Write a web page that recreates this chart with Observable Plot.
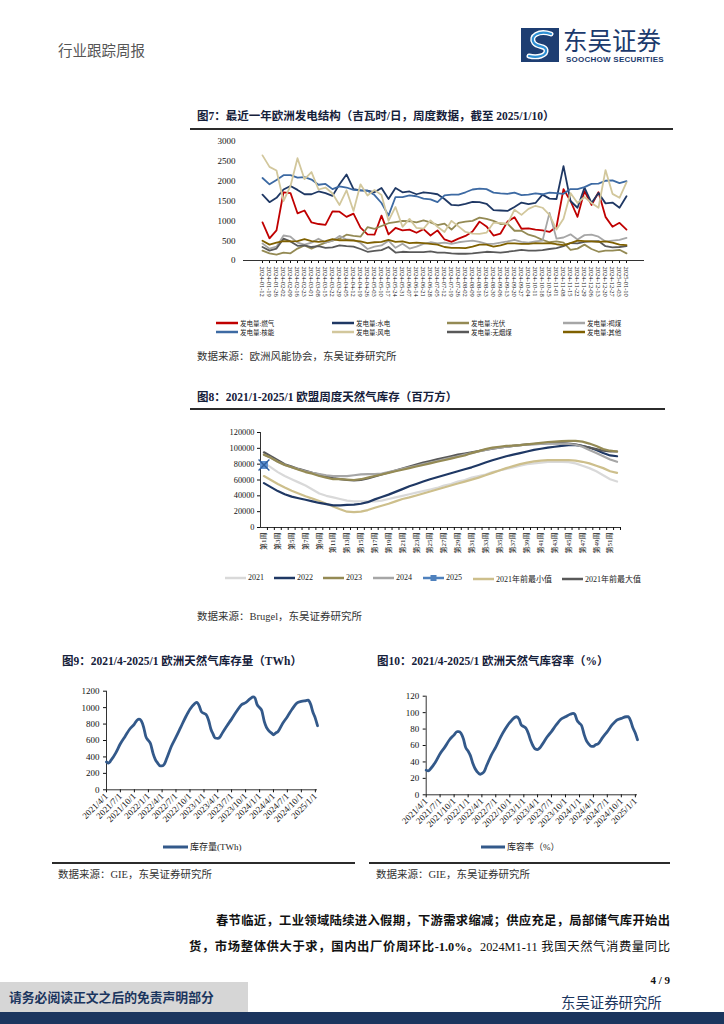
<!DOCTYPE html>
<html><head><meta charset="utf-8">
<script src="https://cdn.jsdelivr.net/npm/d3@7"></script>
<script src="https://cdn.jsdelivr.net/npm/@observablehq/plot@0.6"></script>
<style>
body{margin:0;background:#fff;}
#page{position:relative;width:724px;height:1024px;overflow:hidden;background:#fff;font-family:"Liberation Serif","Noto Sans CJK SC",serif;color:#222;}
.abs{position:absolute;white-space:nowrap;}
.title{font-weight:bold;font-size:11.5px;color:#15203a;line-height:14px;}
.rule{position:absolute;height:2px;background:#2b2b2b;}
.src{font-size:10.5px;color:#333;line-height:14px;}
.leg{position:absolute;display:flex;align-items:center;white-space:nowrap;color:#222;}
</style></head><body><div id="page">
<div class="abs" style="left:58px;top:39px;font-size:14.5px;color:#555;font-family:'Noto Sans CJK SC';">行业跟踪周报</div>
<div class="abs" style="left:521px;top:28px;">
<svg width="38" height="34" viewBox="0 0 38 34"><rect width="38" height="34" fill="#1e3e72"/>
<path d="M30 6 C18 2 8 8 13 15 C17 20 24 17 25 22 C26 28 16 30 8 28" fill="none" stroke="#ffffff" stroke-width="5" stroke-linecap="round"/>
<path d="M30 6 C18 2 8 8 13 15 C17 20 24 17 25 22 C26 28 16 30 8 28" fill="none" stroke="#2e8fd3" stroke-width="2.2" stroke-linecap="round"/></svg></div>
<div class="abs" style="left:563px;top:28px;font-size:24.5px;color:#1b3a6d;font-family:'Noto Sans CJK SC';line-height:24px;">东吴证券</div>
<div class="abs" style="left:566px;top:55px;font-size:8px;font-weight:bold;color:#1b3a6d;font-family:'Liberation Sans';letter-spacing:0.25px;line-height:9px;">SOOCHOW SECURITIES</div>

<div class="abs title" style="left:197px;top:109px;">图7：最近一年欧洲发电结构（吉瓦时/日，周度数据，截至 2025/1/10）</div>
<div class="rule" style="left:190px;top:128px;width:483px;"></div>
<div class="abs src" style="left:197px;top:350px;">数据来源：欧洲风能协会，东吴证券研究所</div>

<div class="abs title" style="left:197px;top:390px;">图8：2021/1-2025/1 欧盟周度天然气库存（百万方）</div>
<div class="rule" style="left:190px;top:408px;width:475px;"></div>
<div class="abs src" style="left:197px;top:610px;">数据来源：Brugel，东吴证券研究所</div>

<div class="abs title" style="left:62px;top:654px;">图9：2021/4-2025/1 欧洲天然气库存量（TWh）</div>
<div class="abs title" style="left:377px;top:654px;">图10：2021/4-2025/1 欧洲天然气库容率（%）</div>
<div class="rule" style="left:52px;top:862px;width:303px;height:1.5px;"></div>
<div class="rule" style="left:369px;top:862px;width:301px;height:1.5px;"></div>
<div class="abs src" style="left:58px;top:868px;">数据来源：GIE，东吴证券研究所</div>
<div class="abs src" style="left:376px;top:868px;">数据来源：GIE，东吴证券研究所</div>

<div style="position:absolute;left:216px;top:910px;width:454px;font-size:12.3px;line-height:22px;text-align:justify;text-align-last:justify;font-weight:bold;color:#111;">春节临近，工业领域陆续进入假期，下游需求缩减；供应充足，局部储气库开始出</div>
<div style="position:absolute;left:189px;top:936px;width:481px;font-size:12.3px;line-height:22px;text-align:justify;text-align-last:justify;color:#111;"><b>货，市场整体供大于求，国内出厂价周环比-1.0%。</b>2024M1-11 我国天然气消费量同比</div>

<div class="abs" style="right:54px;top:974px;font-size:11px;font-weight:bold;color:#111;line-height:13px;">4 / 9</div>
<div class="abs" style="left:0;top:1012px;width:724px;height:12px;background:#1b355e;"></div>
<div class="abs" style="left:0;top:982px;width:248px;height:30px;background:#d6d6d6;"></div>
<div class="abs" style="left:9px;top:989px;font-size:12.8px;font-weight:bold;color:#1b355e;font-family:'Noto Sans CJK SC';line-height:16px;">请务必阅读正文之后的免责声明部分</div>
<div class="abs" style="left:561px;top:993px;font-size:14.4px;color:#1b355e;font-family:'Noto Sans CJK SC';line-height:18px;">东吴证券研究所</div>
</div>
<script>
// ---------- Figure 7 data ----------
const genDates = ["2024-01-12","2024-01-19","2024-01-26","2024-02-02","2024-02-09","2024-02-16","2024-02-23","2024-03-01","2024-03-08","2024-03-15","2024-03-22","2024-03-29","2024-04-05","2024-04-12","2024-04-19","2024-04-26","2024-05-03","2024-05-10","2024-05-17","2024-05-24","2024-05-31","2024-06-07","2024-06-14","2024-06-21","2024-06-28","2024-07-05","2024-07-12","2024-07-19","2024-07-26","2024-08-02","2024-08-09","2024-08-16","2024-08-23","2024-08-30","2024-09-06","2024-09-13","2024-09-20","2024-09-27","2024-10-04","2024-10-11","2024-10-18","2024-10-25","2024-11-01","2024-11-08","2024-11-15","2024-11-22","2024-11-29","2024-12-06","2024-12-13","2024-12-20","2024-12-27","2025-01-03","2025-01-10"];
const gasGen = [960,560,760,1720,1700,1190,1260,960,920,900,1240,1230,1100,1180,830,660,650,1130,660,820,760,780,700,790,630,760,530,470,550,620,730,980,860,630,680,980,1090,800,810,780,760,720,850,1800,1500,1100,1750,1400,1720,1100,850,950,780];
const hydroGen = [1660,1470,1580,1790,1880,1780,1670,1670,1740,1700,1630,1920,2170,1800,1770,1760,1720,1830,1550,1830,1720,1740,1670,1720,1700,1670,1550,1400,1390,1430,1480,1470,1430,1270,1260,1250,1350,1460,1420,1450,1660,1560,1550,2380,1500,1330,1840,1450,1700,1440,1460,1330,1620];
const solarGen = [250,180,150,200,180,300,380,300,380,450,500,550,650,620,600,840,800,870,940,970,1000,990,960,1010,960,890,930,780,950,980,1000,1080,1050,1000,920,930,750,750,650,600,520,460,480,450,270,300,400,290,220,250,250,270,180];
const ligniteGen = [430,300,350,630,600,450,400,450,550,450,500,620,530,520,440,290,350,380,500,320,420,300,350,420,460,430,450,420,460,480,500,470,420,420,450,480,520,470,450,480,500,1200,550,580,660,530,640,650,600,480,500,520,570];
const nuclearGen = [2080,1920,2030,2150,2150,2090,2100,2040,1910,1930,1800,1870,1840,1780,1770,1760,1650,1450,1130,1600,1600,1640,1620,1560,1540,1470,1640,1660,1660,1720,1790,1810,1800,1710,1690,1680,1710,1650,1660,1690,1670,1710,1700,1680,1800,1800,1850,1930,1940,2010,2020,1950,2000];
const windGen = [2650,2360,2270,1500,1880,2580,2050,2230,1790,1840,1690,1400,1770,1250,1920,1640,1780,1650,1000,1350,850,1050,820,800,1010,850,720,1000,860,720,680,670,700,950,950,920,1280,1150,1300,1380,1330,1150,780,1050,1700,1450,1600,1450,1330,2280,1680,1580,1970];
const hardCoalGen = [340,250,300,550,480,370,380,340,360,320,330,380,360,350,290,220,240,260,340,200,220,210,210,210,230,200,200,180,170,170,180,200,220,210,200,220,240,270,250,250,260,290,310,360,440,430,470,480,490,360,330,340,360];
const otherGen = [500,400,450,490,480,490,540,490,470,490,540,510,510,500,480,440,460,470,520,470,480,440,450,440,420,400,340,320,320,310,350,400,400,350,380,430,430,420,420,440,430,440,410,390,440,500,490,480,470,480,450,400,390];
const genNames = ["发电量:燃气","发电量:水电","发电量:光伏","发电量:褐煤","发电量:核能","发电量:风电","发电量:无烟煤","发电量:其他"];
const genColors = ["#c00000","#1f3864","#948a54","#a6a6a6","#3d6aa3","#d2c79c","#595959","#7f6000"];
const genTicks = [0,500,1000,1500,2000,2500,3000];

// ---------- Figure 8 data ----------
const stor2021 = [82000,76000,70000,65000,61000,57000,53000,48000,43000,40000,38000,36000,34000,33000,33000,33000,33000,34000,36000,38000,40000,42000,44000,46000,48000,50000,53000,55000,58000,60000,63000,65000,67000,70000,72000,74000,76000,78000,80000,81000,82000,83000,83000,83000,82500,81000,78000,75000,71000,66000,61000,58000];
const stor2022 = [56000,51000,46000,42000,39000,37000,35000,33000,31000,29500,28000,28000,28500,29000,30000,32000,35500,38500,41500,45000,48500,52000,55000,58000,61000,63500,66000,68500,71000,73500,76000,79000,82000,85000,87500,90000,92000,94000,96000,98000,99500,101000,102000,103000,104000,104000,103000,101000,98000,94000,91000,90000];
const stor2023 = [92000,88000,83000,79000,76000,73000,70000,68000,65000,63000,61000,61000,60500,60000,61000,63000,65000,67000,69000,71000,73000,75000,77000,79000,81000,83000,85000,87000,89000,91000,94000,96500,99000,101000,102000,103000,103500,104000,105000,106000,107000,108000,108500,109000,109500,109500,108500,106000,103000,99000,97000,96000];
const stor2024 = [92000,88000,83000,79000,76000,73500,71000,69000,67500,66000,65000,65000,65000,66000,67000,67500,67500,68000,70000,72000,74000,76000,78000,80000,82000,84000,86000,88000,90000,92000,94000,96000,98000,100000,101000,102000,103000,104000,104500,105000,105500,106000,106000,106000,105500,104500,102000,98000,94000,90000,86000,83000];
const stor2025 = [79000];
const storMin = [65000,60000,55000,50500,46500,43000,39500,36500,33500,30000,26500,23000,20000,19500,20000,22000,25000,27500,30000,33000,36000,38000,40500,43000,45500,48000,50500,53000,55500,58000,60500,63000,66000,69000,72000,75000,77500,80000,82000,83500,84500,85000,85000,85000,85000,84500,83000,81000,78000,75000,71000,69000];
const storMax = [95000,90000,85000,80000,77000,74000,71500,69000,67000,64500,62500,61000,60000,59500,60000,62000,64500,67000,69500,72000,74500,77000,79500,82000,84000,86000,88000,90000,92000,93500,95000,96500,98000,99500,101000,102000,103000,104000,105000,105500,106000,106500,106500,106500,106000,105000,103000,101000,99000,97000,96000,96000];
const storNames = ["2021","2022","2023","2024","2025","2021年前最小值","2021年前最大值"];
const storColors = ["#d9d9d9","#1f3864","#948a54","#a6a6a6","#4f81bd","#cdbf8c","#595959"];
const storTicks = [0,20000,40000,60000,80000,100000,120000];

// ---------- Figure 9/10 data ----------
const gieDates = ["2021-04-01","2021-04-15","2021-05-01","2021-06-01","2021-07-01","2021-08-01","2021-09-01","2021-10-01","2021-10-20","2021-11-01","2021-11-15","2021-12-01","2021-12-15","2022-01-01","2022-01-15","2022-02-01","2022-02-15","2022-03-01","2022-03-20","2022-04-01","2022-04-15","2022-05-01","2022-06-01","2022-07-01","2022-08-01","2022-09-01","2022-10-01","2022-11-01","2022-11-15","2022-12-01","2022-12-15","2023-01-01","2023-01-15","2023-02-01","2023-02-15","2023-03-01","2023-03-15","2023-04-01","2023-04-15","2023-05-01","2023-06-01","2023-07-01","2023-08-01","2023-09-01","2023-10-01","2023-11-01","2023-11-20","2023-12-01","2023-12-15","2024-01-01","2024-01-15","2024-02-01","2024-02-15","2024-03-01","2024-03-20","2024-04-01","2024-04-15","2024-05-01","2024-06-01","2024-07-01","2024-08-01","2024-09-01","2024-10-01","2024-11-01","2024-11-15","2024-12-01","2024-12-15","2025-01-01","2025-01-15"];
const gieStock = [340,325,360,450,560,650,740,800,850,860,840,760,650,600,560,440,370,330,290,290,310,380,530,640,760,880,980,1050,1065,1020,950,930,915,840,740,680,630,625,640,690,780,860,950,1030,1060,1110,1130,1120,1040,1000,965,830,760,720,690,670,690,710,810,890,980,1055,1075,1085,1090,1040,950,870,780];
const gieFull = [30,29,32,40,50,58,67,73,77,77,75,68,58,53,48,38,32,28,25,26,28,35,48,58,70,80,88,94,95,92,85,83,81,74,66,60,56,55,57,61,70,77,85,92,95,98,99,98,91,87,84,73,66,62,59,59,61,62,70,77,85,91,93,95,95,90,82,75,67];
const gieTickDates = ["2021-04-01","2021-07-01","2021-10-01","2022-01-01","2022-04-01","2022-07-01","2022-10-01","2023-01-01","2023-04-01","2023-07-01","2023-10-01","2024-01-01","2024-04-01","2024-07-01","2024-10-01","2025-01-01"];
const stockTicks = [0,200,400,600,800,1000,1200];
const fullTicks = [0,20,40,60,80,100,120];

const page = document.getElementById("page");
function place(el, left, top) {
  const d = document.createElement("div");
  d.style.cssText = `position:absolute;left:${left}px;top:${top}px;`;
  d.appendChild(el); page.appendChild(d); return d;
}
function legendItem(left, top, color, text, swW, fontSize, marker) {
  const d = document.createElement("div");
  d.className = "leg";
  d.style.left = left + "px"; d.style.top = top + "px"; d.style.fontSize = fontSize + "px";
  const sw = document.createElementNS("http://www.w3.org/2000/svg", "svg");
  sw.setAttribute("width", swW); sw.setAttribute("height", 8);
  sw.innerHTML = `<line x1="0" x2="${swW}" y1="4" y2="4" stroke="${color}" stroke-width="${fontSize > 8.5 ? 3 : 2.5}"/>` +
    (marker ? `<rect x="${swW/2-3}" y="1" width="6" height="6" fill="${color}"/>` : "");
  sw.style.marginRight = "2px";
  d.appendChild(sw);
  const t = document.createElement("span"); t.textContent = text; d.appendChild(t);
  page.appendChild(d);
}
const serif = "'Liberation Serif','Noto Sans CJK SC',serif";

// ---------- Figure 7 ----------
const genSeries = [gasGen, hydroGen, solarGen, ligniteGen, nuclearGen, windGen, hardCoalGen, otherGen];
const genRows = genSeries.flatMap((vals, k) => vals.map((v, i) => ({date: genDates[i], value: v, series: genNames[k]})));
const fig7 = Plot.plot({
  width: 470, height: 185, marginTop: 8, marginRight: 16, marginBottom: 58, marginLeft: 53,
  style: {fontFamily: serif, fontSize: "9px", color: "#111", background: "transparent", overflow: "visible"},
  x: {type: "point", domain: genDates, padding: 0.5},
  y: {domain: [0, 3000]},
  color: {domain: genNames, range: genColors},
  marks: [
    Plot.axisY({ticks: genTicks, tickSize: 0, tickPadding: 8, label: null, tickFormat: d => String(d)}),
    Plot.axisX({tickSize: 3, tickRotate: 90, fontSize: 6.5, tickPadding: 3, label: null}),
    Plot.ruleY([0], {stroke: "#333", strokeWidth: 1}),
    Plot.line(genRows, {x: "date", y: "value", z: "series", stroke: "series", strokeWidth: 1.8})
  ]
});
place(fig7, 190, 133);
const legCols = [216, 332, 447, 563];
genNames.forEach((n, k) => legendItem(legCols[k % 4], k < 4 ? 318 : 327, genColors[k], n, 22, 6.5, false));

// ---------- Figure 8 ----------
const weeks = Array.from({length: 52}, (_, i) => i + 1);
const storSeries = [stor2021, stor2022, stor2023, stor2024, null, storMin, storMax];
const storOrder = [0, 5, 1, 6, 3, 2];
const storRows = storOrder.flatMap(k => storSeries[k].map((v, i) => ({week: weeks[i], value: v, series: storNames[k]})));
const fig8 = Plot.plot({
  width: 430, height: 150, marginTop: 12, marginRight: 10, marginBottom: 43, marginLeft: 60,
  style: {fontFamily: serif, fontSize: "8.3px", color: "#111", background: "transparent", overflow: "visible"},
  x: {domain: [0.5, 52.5]},
  y: {domain: [0, 120000]},
  color: {domain: storNames, range: storColors},
  marks: [
    Plot.ruleX([0.5], {stroke: "#333", strokeWidth: 1}),
    Plot.ruleY([0], {stroke: "#333", strokeWidth: 1}),
    Plot.axisY({ticks: storTicks, tickSize: 3, tickPadding: 3, label: null, tickFormat: d => String(d)}),
    Plot.axisX({ticks: weeks.map(w => w + 0.5), tickSize: 3, tickFormat: () => "", label: null}),
    Plot.axisX({ticks: weeks.filter(w => w % 2 === 1), tickSize: 0, tickPadding: 5, tickRotate: -90, fontSize: 7, tickFormat: w => `第${w}周`, label: null}),
    Plot.line(storRows, {x: "week", y: "value", z: "series", stroke: "series", strokeWidth: 2.2}),
    Plot.dot(stor2025.map((v, i) => ({week: weeks[i], value: v})), {x: "week", y: "value", symbol: "square", fill: "#5b8fd0", r: 4.5}),
    Plot.dot(stor2025.map((v, i) => ({week: weeks[i], value: v})), {x: "week", y: "value", symbol: "times", stroke: "#2f5f9e", strokeWidth: 1.4, r: 5})
  ]
});
place(fig8, 200, 420);
const storLegX = [225, 274, 323, 373, 423, 473, 562];
storNames.forEach((n, k) => legendItem(storLegX[k], 573, storColors[k], n, 21, 8, k === 4));

// ---------- Figure 9 & 10 ----------
const gieRows = gieDates.map((d, i) => ({date: new Date(d), stock: gieStock[i], full: gieFull[i]}));
const gieTicks = gieTickDates.map(d => new Date(d));
const fmt = d3.utcFormat("%Y/%-m/%-d");
const xDom = [new Date("2021-04-01"), new Date("2025-01-15")];
function gieChart(key, ticks, yMax, opts) {
  return Plot.plot({
    width: opts.width, height: 160, marginTop: opts.mt, marginRight: opts.mr, marginBottom: opts.mb, marginLeft: opts.ml,
    style: {fontFamily: serif, fontSize: "9px", color: "#111", background: "transparent", overflow: "visible"},
    x: {type: "utc", domain: xDom},
    y: {domain: [0, yMax]},
    marks: [
      Plot.ruleX([xDom[0]], {stroke: "#333", strokeWidth: 1}),
      Plot.ruleY([0], {stroke: "#333", strokeWidth: 1}),
      Plot.axisY({ticks, tickSize: 3, tickPadding: 4, label: null, tickFormat: d => String(d)}),
      Plot.axisX({ticks: gieTicks, tickSize: 3, tickPadding: 2, tickRotate: -45, tickFormat: fmt, label: null}),
      Plot.line(gieRows, {x: "date", y: key, stroke: "#33598a", strokeWidth: 2.8, curve: "monotone-x"})
    ]
  });
}
place(gieChart("stock", stockTicks, 1200, {width: 280, mt: 10.7, mr: 23, mb: 50.7, ml: 46}), 60, 680);
place(gieChart("full", fullTicks, 120, {width: 290, mt: 15.7, mr: 23, mb: 45.7, ml: 55.7}), 370, 680);
legendItem(163, 840, "#33598a", "库存量(TWh)", 25, 9, false);
legendItem(481, 840, "#33598a", "库容率（%）", 24, 9, false);
</script></body></html>
